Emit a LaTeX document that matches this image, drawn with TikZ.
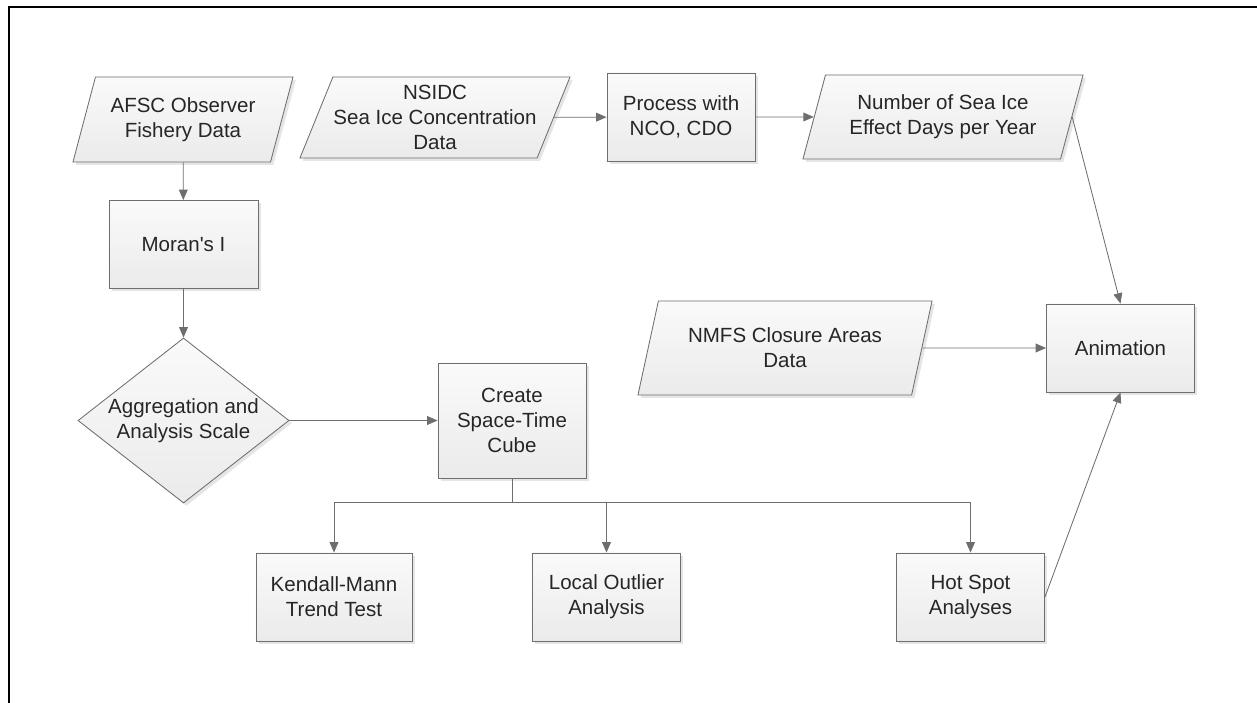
\documentclass[tikz,border=0pt]{standalone}
\usepackage{fontspec}
\setmainfont{Liberation Sans}
\usetikzlibrary{shapes.geometric,arrows.meta,shadows}

\definecolor{linegray}{HTML}{6E6E6E}
\definecolor{textgray}{HTML}{262626}

\tikzset{
  base/.style={draw=linegray, line width=0.6pt, top color=black!2, bottom color=black!8,
    drop shadow={shadow xshift=0.07cm, shadow yshift=-0.07cm, fill=black!10, opacity=1},
    text=textgray, align=center, font=\fontsize{14.6}{17.8}\selectfont, inner sep=0pt},
  procbox/.style={base, rectangle, minimum width=3.7cm, minimum height=2.2cm},
  databox/.style={base, trapezium, trapezium left angle=63, trapezium right angle=117,
    trapezium stretches body},
  decbox/.style={base, diamond, aspect=1.28},
  flow/.style={draw=linegray, line width=0.6pt, -{Triangle[length=2.6mm,width=2.2mm]}},
  link/.style={draw=linegray, line width=0.6pt},
}

\begin{document}
\begin{tikzpicture}[x=0.025cm, y=-0.025cm]

    \useasboundingbox (0,0) rectangle (1257,703);
    \draw[line width=1.4pt] (9,703) -- (9,7) -- (1257,7);

    % top row
    \node[databox, minimum width=5.5cm, minimum height=2.125cm] (afsc) at (183,119.5) {AFSC Observer\\Fishery Data};
    \node[databox, minimum width=6.75cm, minimum height=2.025cm] (nsidc) at (435,117.5) {NSIDC\\Sea Ice Concentration\\Data};
    \node[procbox] (proc) at (681,117) {Process with\\NCO, CDO};
    \node[databox, minimum width=7cm, minimum height=2.1cm] (effect) at (943,117) {Number of Sea Ice\\Effect Days per Year};

    % left column
    \node[procbox, minimum width=3.725cm] (moran) at (183.5,244.5) {Moran\textquotesingle s I};
    \node[decbox, minimum width=5.275cm, minimum height=4.125cm] (scale) at (183.5,420.5) {Aggregation and\\Analysis Scale};
    \node[procbox, minimum height=2.875cm] (cube) at (512,420.5) {Create\\Space-Time\\Cube};

    % right side
    \node[databox, minimum width=7.35cm, minimum height=2.35cm] (nmfs) at (785,348) {NMFS Closure Areas\\Data};
    \node[procbox] (anim) at (1120.5,348) {Animation};

    % bottom row
    \node[procbox, minimum width=3.9cm] (kendall) at (334,597) {Kendall-Mann\\Trend Test};
    \node[procbox] (outlier) at (606.5,597) {Local Outlier\\Analysis};
    \node[procbox] (hotspot) at (970.5,597) {Hot Spot\\Analyses};

    \coordinate (split) at (512,502);

    \draw[flow] (afsc) -- (moran);
    \draw[flow] (moran) -- (scale);
    \draw[flow] (scale) -- (cube);
    \draw[flow] (nsidc) -- (proc);
    \draw[flow] (proc) -- (effect);
    \draw[flow] (effect.east) -- (anim.north);
    \draw[flow] (nmfs) -- (anim);
    \draw[flow] (hotspot.east) -- (anim.south);

    \draw[link] (cube) -- (split);
    \draw[flow] (split) -| (kendall);
    \draw[flow] (split) -| (outlier);
    \draw[flow] (split) -| (hotspot);

\end{tikzpicture}
\end{document}
